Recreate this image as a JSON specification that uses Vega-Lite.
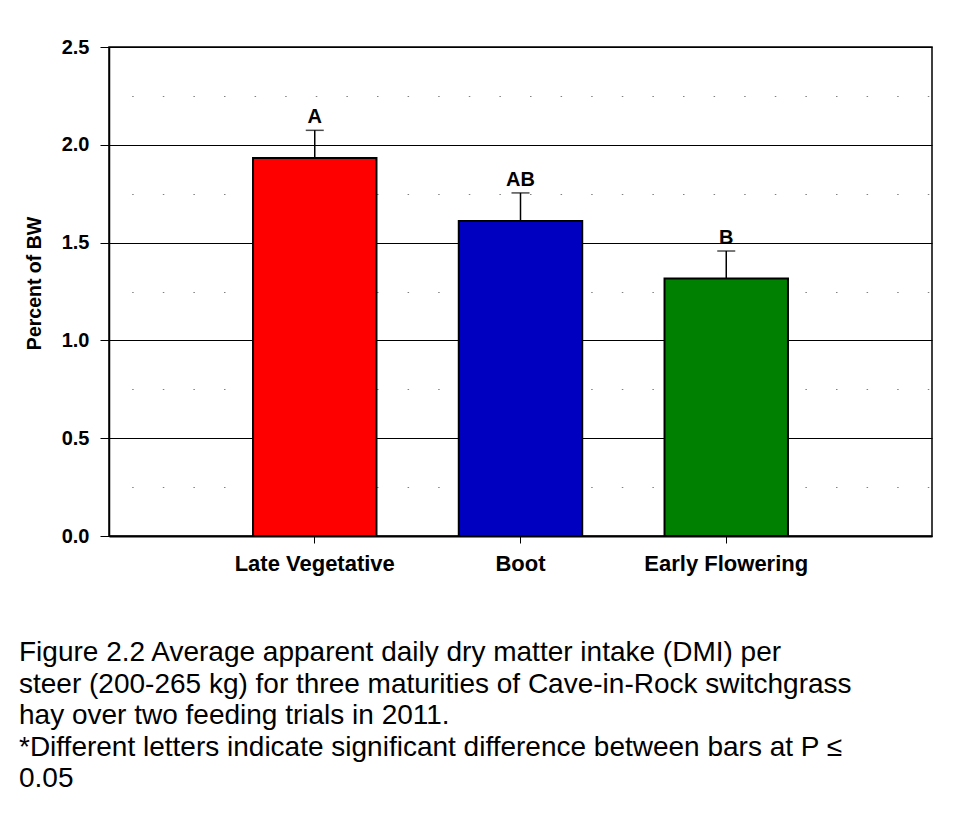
{
  "$schema": "https://vega.github.io/schema/vega-lite/v6.json",
  "width": 823,
  "height": 489,
  "autosize": {"type": "none"},
  "padding": {"left": 109, "top": 47, "right": 45, "bottom": 278},
  "background": "white",
  "data": {
    "values": [
      {"stage": "Late Vegetative", "mean": 1.933, "upper": 2.074, "letter": "A"},
      {"stage": "Boot", "mean": 1.611, "upper": 1.754, "letter": "AB"},
      {"stage": "Early Flowering", "mean": 1.316, "upper": 1.457, "letter": "B"}
    ]
  },
  "title": {
    "text": [
      "Figure 2.2 Average apparent daily dry matter intake (DMI) per",
      "steer (200-265 kg) for three maturities of Cave-in-Rock switchgrass",
      "hay over two feeding trials in 2011.",
      "*Different letters indicate significant difference between bars at P ≤",
      "0.05"
    ],
    "orient": "bottom",
    "anchor": "start",
    "frame": "group",
    "dx": -90,
    "offset": 65,
    "font": "Liberation Sans",
    "fontSize": 28,
    "fontWeight": "normal",
    "lineHeight": 31.5,
    "color": "#000000",
    "baseline": "top"
  },
  "encoding": {
    "x": {
      "field": "stage",
      "type": "nominal",
      "sort": null,
      "scale": {"paddingInner": 0.4, "paddingOuter": 0.7},
      "axis": {
        "title": null,
        "labelAngle": 0,
        "labelFont": "Liberation Sans",
        "labelFontWeight": "bold",
        "labelFontSize": 22,
        "labelColor": "#000000",
        "labelPadding": 10,
        "tickSize": 7,
        "tickColor": "#000000",
        "tickWidth": 1,
        "domainColor": "#000000",
        "domainWidth": 2
      }
    }
  },
  "layer": [
    {
      "mark": {"type": "rule", "color": "#000000", "strokeWidth": 1.5},
      "encoding": {
        "y": {
          "field": "mean",
          "type": "quantitative",
          "scale": {"domain": [0, 2.5], "nice": false},
          "axis": {
            "orient": "left",
            "values": [0.25, 0.75, 1.25, 1.75, 2.25],
            "labels": false,
            "ticks": false,
            "domain": false,
            "title": null,
            "grid": true,
            "gridColor": "#808080",
            "gridWidth": 1,
            "gridDash": [1.5, 29.1],
            "gridDashOffset": 7.9
          }
        },
        "y2": {"field": "upper"}
      }
    },
    {
      "mark": {"type": "bar", "stroke": "#000000", "strokeWidth": 2},
      "encoding": {
        "y": {
          "field": "mean",
          "type": "quantitative",
          "scale": {"domain": [0, 2.5], "nice": false},
          "axis": {
            "orient": "left",
            "values": [0, 0.5, 1, 1.5, 2, 2.5],
            "format": ".1f",
            "title": "Percent of BW",
            "titleFont": "Liberation Sans",
            "titleFontWeight": "bold",
            "titleFontSize": 19.5,
            "titleColor": "#000000",
            "titlePadding": 17,
            "titleY": 236,
            "labelFont": "Liberation Sans",
            "labelFontWeight": "bold",
            "labelFontSize": 20,
            "labelColor": "#000000",
            "labelPadding": 11,
            "tickSize": 9,
            "tickColor": "#000000",
            "tickWidth": 1,
            "domainColor": "#000000",
            "domainWidth": 1.5,
            "grid": true,
            "gridColor": "#000000",
            "gridWidth": 1
          }
        },
        "color": {
          "field": "stage",
          "type": "nominal",
          "sort": null,
          "scale": {"range": ["#FF0000", "#0000C0", "#008000"]},
          "legend": null
        }
      }
    },
    {
      "mark": {"type": "tick", "color": "#000000", "size": 18, "thickness": 1.5},
      "encoding": {
        "y": {"field": "upper", "type": "quantitative", "axis": null}
      }
    },
    {
      "mark": {
        "type": "text",
        "font": "Liberation Sans",
        "fontWeight": "bold",
        "fontSize": 20,
        "color": "#000000",
        "baseline": "alphabetic",
        "dy": -7
      },
      "encoding": {
        "y": {"field": "upper", "type": "quantitative", "axis": null},
        "text": {"field": "letter"}
      }
    }
  ],
  "resolve": {"axis": {"y": "independent"}},
  "config": {
    "view": {"stroke": "#000000", "strokeWidth": 1.5}
  }
}
